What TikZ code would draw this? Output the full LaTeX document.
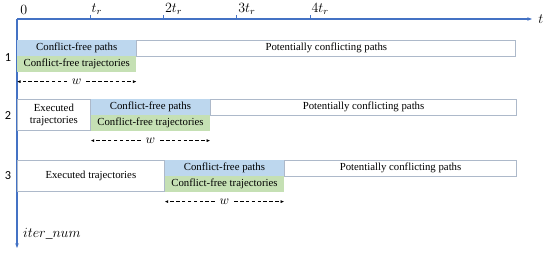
\documentclass[tikz,border=0pt]{standalone}
\usepackage{fontspec}
\setmainfont{Liberation Serif}
\newfontfamily\numfont{Carlito}
\usepackage{tikz}
\usetikzlibrary{positioning}
\usetikzlibrary{calc}
\usetikzlibrary{arrows.meta}
\definecolor{cfblue}{RGB}{189,215,238}
\definecolor{cfgreen}{RGB}{197,224,180}
\definecolor{axisblue}{RGB}{68,114,196}
\definecolor{boxline}{RGB}{173,185,202}

\begin{document}
\begin{tikzpicture}[
        x=0.03cm, y=-0.03cm,
        node distance=0pt,
        base/.style={inner sep=0pt, minimum height=0.47cm, align=center,
                     font=\fontsize{9.2}{10.5}\selectfont},
        cfpath/.style={base, fill=cfblue, minimum width=3.57cm},
        cftraj/.style={base, fill=cfgreen, minimum width=3.57cm},
        pcpath/.style={base, draw=boxline, line width=0.6pt},
        executed/.style={base, draw=boxline, line width=0.6pt, minimum height=0.94cm},
        rowlab/.style={font=\numfont\fontsize{10.5}{12}\selectfont, inner sep=0pt},
        ticklab/.style={anchor=south west, inner sep=1pt, font=\fontsize{11.5}{12}\selectfont},
        wlab/.style={inner sep=4pt, font=\fontsize{10.5}{11}\selectfont},
        axis/.style={-{Stealth[length=4pt]}, line width=1pt, draw=axisblue},
        warrow/.style={-{Latex[length=3pt,width=2.5pt]}, densely dashed, line width=0.5pt}
    ]
        \useasboundingbox (0,0) rectangle (550,255);

        % axes
        \coordinate (o) at (17,19);
        \coordinate (tend) at (532,19);
        \coordinate (iend) at (17,248);
        \draw[axis] (o) -- (tend);
        \draw[axis] (o) -- (iend);
        \node[right=2pt of tend, font=\fontsize{11.5}{12}\selectfont] (tlab) {$t$};
        \node[anchor=west, font=\fontsize{11.5}{12}\selectfont] (ilab) at (19,234) {$iter\_num$};
        \node[ticklab] (tick0) at (19,16) {$0$};
        \foreach \k/\lab in {1/t_r, 2/2t_r, 3/3t_r, 4/4t_r} {
            \draw[axisblue, line width=0.8pt] ($(o)+(\k*73.3,0)$) -- ++(0,-4);
            \node[ticklab] (tick\k) at ($(o)+(\k*73.3,-3)$) {$\lab$};
        }

        % iteration 1
        \node[cfpath, anchor=north west] (path1) at (17,40) {Conflict-free paths};
        \node[cftraj, below=of path1] (traj1) {Conflict-free trajectories};
        \node[pcpath, right=of path1, minimum width=11.37cm] (pc1) {Potentially conflicting paths};
        \node[rowlab] (r1) at (8,58) {1};
        \node[wlab, below=0.05cm of traj1] (w1) {$w$};
        \draw[warrow] (w1) -- (w1 -| traj1.west);
        \draw[warrow] (w1) -- (w1 -| traj1.east);

        % iteration 2
        \node[executed, anchor=north west, minimum width=2.19cm] (exec2) at (17,99) {Executed\\trajectories};
        \node[cfpath, anchor=north west] (path2) at (exec2.north east) {Conflict-free paths};
        \node[cftraj, below=of path2] (traj2) {Conflict-free trajectories};
        \node[pcpath, right=of path2, minimum width=9.18cm] (pc2) {Potentially conflicting paths};
        \node[rowlab] (r2) at (8,116) {2};
        \node[wlab, below=0.05cm of traj2] (w2) {$w$};
        \draw[warrow] (w2) -- (w2 -| traj2.west);
        \draw[warrow] (w2) -- (w2 -| traj2.east);

        % iteration 3
        \node[executed, anchor=north west, minimum width=4.41cm] (exec3) at (17,160) {Executed trajectories};
        \node[cfpath, anchor=north west] (path3) at (exec3.north east) {Conflict-free paths};
        \node[cftraj, below=of path3] (traj3) {Conflict-free trajectories};
        \node[pcpath, right=of path3, minimum width=6.96cm] (pc3) {Potentially conflicting paths};
        \node[rowlab] (r3) at (8,176) {3};
        \node[wlab, below=0.05cm of traj3] (w3) {$w$};
        \draw[warrow] (w3) -- (w3 -| traj3.west);
        \draw[warrow] (w3) -- (w3 -| traj3.east);
    \end{tikzpicture}
\end{document}
